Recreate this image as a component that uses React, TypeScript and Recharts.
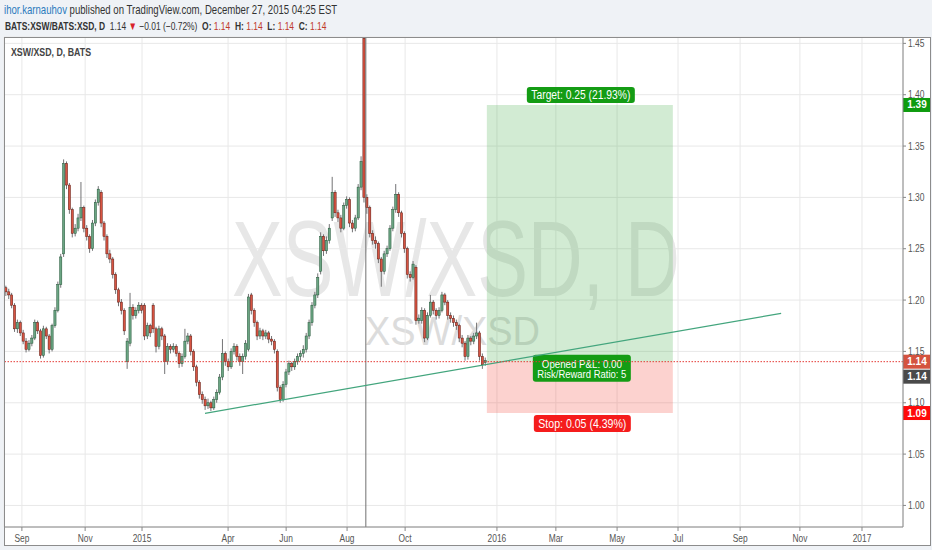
import React from 'react'
import { Bar, CartesianGrid, ComposedChart, ReferenceArea, ReferenceLine, XAxis, YAxis } from 'recharts'

// one candle per slot left to right
const opens = [
  1.212, 1.208, 1.205, 1.195, 1.172, 1.178, 1.168, 1.16, 1.152, 1.158,
  1.163, 1.178, 1.17, 1.146, 1.172, 1.165, 1.152, 1.175, 1.19, 1.215,
  1.245, 1.333, 1.312, 1.288, 1.265, 1.27, 1.28, 1.29, 1.27, 1.262,
  1.25, 1.275, 1.295, 1.305, 1.275, 1.262, 1.245, 1.24, 1.225, 1.21,
  1.198, 1.19, 1.14, 1.158, 1.193, 1.185, 1.19, 1.195, 1.195, 1.165,
  1.175, 1.195, 1.172, 1.155, 1.172, 1.165, 1.14, 1.155, 1.152, 1.155,
  1.148, 1.138, 1.145, 1.16, 1.165, 1.15, 1.135, 1.12, 1.108, 1.103,
  1.097, 1.1, 1.095, 1.103, 1.11, 1.125, 1.148, 1.14, 1.135, 1.15,
  1.155, 1.145, 1.14, 1.145, 1.152, 1.205, 1.19, 1.178, 1.165, 1.17,
  1.165, 1.168, 1.162, 1.16, 1.15, 1.115, 1.103, 1.118, 1.13, 1.138,
  1.135, 1.14, 1.145, 1.148, 1.152, 1.165, 1.178, 1.195, 1.205, 1.228,
  1.262, 1.248, 1.258, 1.28, 1.305, 1.285, 1.28, 1.27, 1.292, 1.298,
  1.275, 1.27, 1.28, 1.31, 1.455, 1.3, 1.29, 1.265, 1.258, 1.255,
  1.24, 1.228, 1.245, 1.25, 1.27, 1.288, 1.303, 1.285, 1.265, 1.25,
  1.225, 1.222, 1.232, 1.18, 1.18, 1.19, 1.163, 1.185, 1.198, 1.19,
  1.185, 1.19, 1.205, 1.198, 1.185, 1.182, 1.178, 1.175, 1.163, 1.158,
  1.145, 1.163, 1.16, 1.165, 1.168, 1.145, 1.139,
]
const highs = [
  1.214, 1.211, 1.207, 1.197, 1.181, 1.18, 1.171, 1.163, 1.161, 1.166,
  1.181, 1.18, 1.172, 1.175, 1.174, 1.167, 1.177, 1.193, 1.218, 1.245,
  1.337, 1.335, 1.314, 1.29, 1.274, 1.284, 1.315, 1.292, 1.273, 1.264,
  1.278, 1.298, 1.311, 1.307, 1.277, 1.264, 1.249, 1.242, 1.227, 1.212,
  1.201, 1.192, 1.163, 1.207, 1.196, 1.193, 1.198, 1.197, 1.197, 1.178,
  1.177, 1.197, 1.174, 1.175, 1.174, 1.167, 1.158, 1.157, 1.158, 1.157,
  1.15, 1.148, 1.172, 1.168, 1.167, 1.152, 1.137, 1.122, 1.111, 1.106,
  1.104, 1.102, 1.106, 1.113, 1.128, 1.162, 1.15, 1.143, 1.153, 1.158,
  1.157, 1.148, 1.148, 1.161, 1.206, 1.207, 1.192, 1.18, 1.173, 1.172,
  1.171, 1.17, 1.165, 1.162, 1.152, 1.117, 1.121, 1.133, 1.141, 1.14,
  1.143, 1.148, 1.151, 1.156, 1.168, 1.181, 1.198, 1.208, 1.226, 1.266,
  1.264, 1.262, 1.274, 1.32, 1.307, 1.288, 1.283, 1.295, 1.301, 1.3,
  1.278, 1.283, 1.313, 1.34, 1.456, 1.303, 1.292, 1.268, 1.262, 1.257,
  1.242, 1.248, 1.253, 1.273, 1.291, 1.313, 1.305, 1.287, 1.267, 1.252,
  1.228, 1.238, 1.234, 1.186, 1.193, 1.192, 1.188, 1.205, 1.2, 1.192,
  1.193, 1.208, 1.207, 1.2, 1.188, 1.185, 1.181, 1.177, 1.166, 1.16,
  1.166, 1.165, 1.168, 1.178, 1.17, 1.148, 1.144,
]
const lows = [
  1.204, 1.201, 1.192, 1.169, 1.168, 1.165, 1.157, 1.149, 1.15, 1.155,
  1.161, 1.167, 1.143, 1.144, 1.162, 1.148, 1.15, 1.173, 1.188, 1.212,
  1.242, 1.308, 1.284, 1.261, 1.262, 1.267, 1.277, 1.266, 1.258, 1.246,
  1.248, 1.272, 1.292, 1.271, 1.258, 1.241, 1.236, 1.221, 1.206, 1.194,
  1.186, 1.166, 1.133, 1.155, 1.181, 1.182, 1.187, 1.187, 1.161, 1.162,
  1.164, 1.168, 1.149, 1.152, 1.161, 1.128, 1.137, 1.148, 1.149, 1.145,
  1.134, 1.135, 1.143, 1.157, 1.146, 1.131, 1.116, 1.104, 1.099, 1.093,
  1.094, 1.092, 1.093, 1.1, 1.108, 1.122, 1.136, 1.131, 1.133, 1.147,
  1.141, 1.136, 1.128, 1.142, 1.15, 1.186, 1.174, 1.161, 1.162, 1.161,
  1.162, 1.158, 1.156, 1.148, 1.111, 1.1, 1.101, 1.115, 1.127, 1.131,
  1.132, 1.137, 1.141, 1.144, 1.149, 1.162, 1.175, 1.192, 1.202, 1.225,
  1.243, 1.245, 1.255, 1.277, 1.281, 1.276, 1.266, 1.268, 1.289, 1.271,
  1.266, 1.267, 1.278, 1.307, 1.295, 1.284, 1.261, 1.254, 1.25, 1.236,
  1.213, 1.225, 1.242, 1.248, 1.267, 1.285, 1.281, 1.261, 1.246, 1.221,
  1.218, 1.22, 1.176, 1.177, 1.177, 1.159, 1.161, 1.183, 1.186, 1.181,
  1.182, 1.188, 1.195, 1.181, 1.178, 1.174, 1.171, 1.159, 1.154, 1.141,
  1.142, 1.156, 1.157, 1.162, 1.141, 1.133, 1.136,
]
const closes = [
  1.208, 1.205, 1.195, 1.172, 1.178, 1.168, 1.16, 1.152, 1.158, 1.163,
  1.178, 1.17, 1.146, 1.172, 1.165, 1.152, 1.175, 1.19, 1.215, 1.242,
  1.333, 1.312, 1.288, 1.265, 1.27, 1.28, 1.29, 1.27, 1.262, 1.25,
  1.275, 1.295, 1.308, 1.275, 1.262, 1.245, 1.24, 1.225, 1.21, 1.198,
  1.19, 1.17, 1.16, 1.193, 1.185, 1.19, 1.195, 1.19, 1.165, 1.175,
  1.168, 1.172, 1.155, 1.172, 1.165, 1.14, 1.155, 1.152, 1.155, 1.148,
  1.138, 1.145, 1.16, 1.165, 1.15, 1.135, 1.12, 1.108, 1.103, 1.097,
  1.1, 1.095, 1.103, 1.11, 1.125, 1.148, 1.14, 1.135, 1.15, 1.155,
  1.145, 1.14, 1.145, 1.158, 1.203, 1.19, 1.178, 1.165, 1.17, 1.165,
  1.168, 1.162, 1.16, 1.152, 1.115, 1.103, 1.118, 1.13, 1.138, 1.135,
  1.14, 1.145, 1.148, 1.152, 1.165, 1.178, 1.195, 1.205, 1.222, 1.262,
  1.248, 1.258, 1.27, 1.305, 1.285, 1.28, 1.27, 1.292, 1.298, 1.275,
  1.27, 1.28, 1.31, 1.335, 1.3, 1.29, 1.265, 1.258, 1.255, 1.24,
  1.228, 1.245, 1.25, 1.27, 1.288, 1.303, 1.285, 1.265, 1.25, 1.225,
  1.222, 1.235, 1.18, 1.182, 1.19, 1.163, 1.185, 1.198, 1.19, 1.185,
  1.19, 1.205, 1.198, 1.185, 1.182, 1.178, 1.175, 1.163, 1.158, 1.145,
  1.163, 1.16, 1.165, 1.168, 1.145, 1.137, 1.141,
]

// month ticks, in candle slots
const monthTicks = [5.5, 27.4, 47.1, 76.9, 97.0, 118.1, 138.2, 170.0, 190.4, 211.6, 232.7, 254.2, 274.9, 296.4]
const monthLabels = ['Sep', 'Nov', '2015', 'Apr', 'Jun', 'Aug', 'Oct', '2016', 'Mar', 'May', 'Jul', 'Sep', 'Nov', '2017']
const priceTicks = [1.0, 1.05, 1.1, 1.15, 1.2, 1.25, 1.3, 1.35, 1.4, 1.45]

// long position tool + drawings
const entry = 1.14
const target = 1.39
const stop = 1.09
const positionFrom = 166.5
const positionTo = 230.9
const trendFrom = { x: 68.9, y: 1.0897 }
const trendTo = { x: 268.4, y: 1.1871 }
const crosshairAt = 124.6

const FONT = "'Liberation Sans', Arial, sans-serif"

const candles = opens.map((o, i) => ({
  i,
  o,
  h: highs[i],
  l: lows[i],
  c: closes[i],
  range: [lows[i], highs[i]],
}))

function Candle(props: any) {
  const { x, y, width, height, payload } = props
  if (payload == null || height == null) return null
  const { o, h, l, c } = payload
  const cx = x + width / 2
  const k = height / (h - l)
  const yo = y + (h - o) * k
  const yc = y + (h - c) * k
  const up = c >= o
  const top = Math.min(yo, yc)
  const bh = Math.max(Math.abs(yo - yc), 1)
  return (
    <g>
      <line x1={cx} x2={cx} y1={y} y2={y + height} stroke="#737375" strokeWidth={1} />
      <rect
        x={cx - 1.1}
        y={top}
        width={2.2}
        height={bh}
        fill={up ? '#6ba583' : '#d75442'}
        stroke={up ? '#225437' : '#5b1a13'}
        strokeWidth={0.5}
      />
    </g>
  )
}

function TimeTick({ x, y, payload }: any) {
  const idx = monthTicks.indexOf(payload.value)
  return (
    <g transform={`translate(${x},${y + 9})`}>
      <text transform="scale(0.8,1)" textAnchor="middle" fontSize={10.5} fill="#555" fontFamily={FONT}>
        {monthLabels[idx]}
      </text>
    </g>
  )
}

function PriceTick({ x, y, payload }: any) {
  return (
    <g transform={`translate(${x},${y + 3.5})`}>
      <text transform="scale(0.85,1)" fontSize={10} fill="#555" fontFamily={FONT}>
        {payload.value.toFixed(2)}
      </text>
    </g>
  )
}

function Badge({ x, y, text, fill }: { x: number; y: number; text: string; fill: string }) {
  return (
    <g>
      <rect x={x} y={y - 7} width={28} height={14} fill={fill} />
      <text x={x + 14} y={y + 3.5} textAnchor="middle" fontSize={10} fontWeight="bold" fill="#fff" fontFamily={FONT}>
        {text}
      </text>
    </g>
  )
}

const targetLabel = (p: any) => {
  const { x, y, width } = p.viewBox
  const cx = x + width / 2
  return (
    <g>
      <rect x={cx - 53} y={y - 18} width={108} height={16} rx={3} fill="#149c14" />
      <text x={cx + 1} y={y - 6} textAnchor="middle" fontSize={12} fill="#fff" fontFamily={FONT}
        textLength={99} lengthAdjust="spacingAndGlyphs">
        Target: 0.25 (21.93%)
      </text>
    </g>
  )
}

const stopLabel = (p: any) => {
  const { x, y, width, height } = p.viewBox
  const cx = x + width / 2
  const bottom = y + height
  return (
    <g>
      <rect x={cx - 47} y={y - 7} width={98} height={27} rx={3} fill="#149c14" />
      <text x={cx + 2} y={y + 6} textAnchor="middle" fontSize={11.5} fill="#fff" fontFamily={FONT}
        textLength={80} lengthAdjust="spacingAndGlyphs">
        Opened P&amp;L: 0.00
      </text>
      <text x={cx + 2} y={y + 16.5} textAnchor="middle" fontSize={11.5} fill="#fff" fontFamily={FONT}
        textLength={89} lengthAdjust="spacingAndGlyphs">
        Risk/Reward Ratio: 5
      </text>
      <rect x={cx - 46} y={bottom + 2} width={97} height={17} rx={3} fill="#f51c1c" />
      <text x={cx + 2.5} y={bottom + 14.5} textAnchor="middle" fontSize={12} fill="#fff" fontFamily={FONT}
        textLength={88} lengthAdjust="spacingAndGlyphs">
        Stop: 0.05 (4.39%)
      </text>
    </g>
  )
}

const entryBadges = (p: any) => {
  const { x, y, width } = p.viewBox
  return (
    <g>
      <Badge x={x + width} y={y} text="1.14" fill="#d4533f" />
      <Badge x={x + width} y={y + 15} text="1.14" fill="#4a4a4a" />
    </g>
  )
}
const targetBadge = (p: any) => <Badge x={p.viewBox.x + p.viewBox.width} y={p.viewBox.y} text="1.39" fill="#0e9b0e" />
const stopBadge = (p: any) => <Badge x={p.viewBox.x + p.viewBox.width} y={p.viewBox.y} text="1.09" fill="#ff0a0a" />

const RED = '#c0392b'

export default function App() {
  return (
    <div style={{ position: 'fixed', left: 0, top: 0, width: 932, height: 550, background: '#eff2f6', overflow: 'hidden' }}>
      <div style={{ position: 'absolute', left: 4, top: 37, width: 927, height: 508, background: '#fff' }} />
      <svg width={932} height={550} style={{ position: 'absolute', left: 0, top: 0 }}>
        <text x={232} y={296} fontSize={108} fill="#e7e7e7" fontFamily={FONT} textLength={448} lengthAdjust="spacingAndGlyphs">
          XSW/XSD, D
        </text>
        <text x={365} y={345} fontSize={40} fill="#dcdcdc" fontFamily={FONT} textLength={175} lengthAdjust="spacingAndGlyphs">
          XSW/XSD
        </text>
      </svg>
      <div style={{ position: 'absolute', left: 0, top: 0 }}>
        <ComposedChart width={932} height={550} data={candles} margin={{ top: 37, right: 0, bottom: 4, left: 4 }}>
          <CartesianGrid stroke="#e8e8e8" />
          <XAxis
            type="number"
            dataKey="i"
            domain={[-0.6925, 310.6]}
            allowDataOverflow
            ticks={monthTicks}
            tick={<TimeTick />}
            height={19}
            tickSize={4}
            axisLine={{ stroke: '#888' }}
            tickLine={{ stroke: '#888' }}
          />
          <YAxis
            orientation="right"
            domain={[0.979, 1.4562]}
            allowDataOverflow
            ticks={priceTicks}
            tick={<PriceTick />}
            width={29}
            tickSize={3}
            axisLine={{ stroke: '#888' }}
            tickLine={{ stroke: '#888' }}
          />
          <ReferenceArea x1={positionFrom} x2={positionTo} y1={entry} y2={target} fill="#4caf50" fillOpacity={0.25}
            stroke="none" label={targetLabel} />
          <ReferenceArea x1={positionFrom} x2={positionTo} y1={stop} y2={entry} fill="#f44336" fillOpacity={0.24}
            stroke="none" />
          <ReferenceLine x={crosshairAt} stroke="#707070" strokeWidth={1} />
          <Bar dataKey="range" barSize={3} shape={<Candle />} isAnimationActive={false} />
          <ReferenceLine segment={[trendFrom, trendTo]} stroke="#43a57d" strokeWidth={1.2} />
          <ReferenceLine y={entry} stroke="#e53935" strokeWidth={1} strokeDasharray="1.5 1.5" label={entryBadges} />
          <ReferenceLine y={target} stroke="none" label={targetBadge} />
          <ReferenceLine y={stop} stroke="none" label={stopBadge} />
          <ReferenceArea x1={positionFrom} x2={positionTo} y1={stop} y2={entry} fill="none" stroke="none"
            label={stopLabel} />
        </ComposedChart>
      </div>
      <svg width={932} height={550} style={{ position: 'absolute', left: 0, top: 0, pointerEvents: 'none' }}>
        <g transform="translate(4,14) scale(0.8,1)">
          <text x={0} y={0} fontSize={12} fill="#333" fontFamily={FONT} style={{ whiteSpace: 'pre' }}>
            <tspan fill="#2b7bbd">ihor.karnauhov</tspan>
            <tspan> published on TradingView.com, December 27, 2015 04:25 EST</tspan>
          </text>
        </g>
        <g transform="translate(5,29.5) scale(0.735,1)">
          <text x={0} y={0} fontSize={11.5} fill="#333" fontFamily={FONT} style={{ whiteSpace: 'pre' }}>
            <tspan fontWeight="bold">BATS:XSW/BATS:XSD, D</tspan>
            <tspan>  1.14 </tspan>
            <tspan fill="#d8232a">▼</tspan>
            <tspan> −0.01 (−0.72%)  </tspan>
            <tspan fontWeight="bold">O:</tspan>
            <tspan fill={RED}> 1.14  </tspan>
            <tspan fontWeight="bold">H:</tspan>
            <tspan fill={RED}> 1.14  </tspan>
            <tspan fontWeight="bold">L:</tspan>
            <tspan fill={RED}> 1.14  </tspan>
            <tspan fontWeight="bold">C:</tspan>
            <tspan fill={RED}> 1.14</tspan>
          </text>
        </g>
        <text x={11} y={56} fontSize={10} fontWeight="bold" fill="#444" fontFamily={FONT} textLength={80}
          lengthAdjust="spacingAndGlyphs">
          XSW/XSD, D, BATS
        </text>
        <rect x={4.5} y={37.5} width={926} height={508} fill="none" stroke="#8c8c8c" />
      </svg>
    </div>
  )
}
